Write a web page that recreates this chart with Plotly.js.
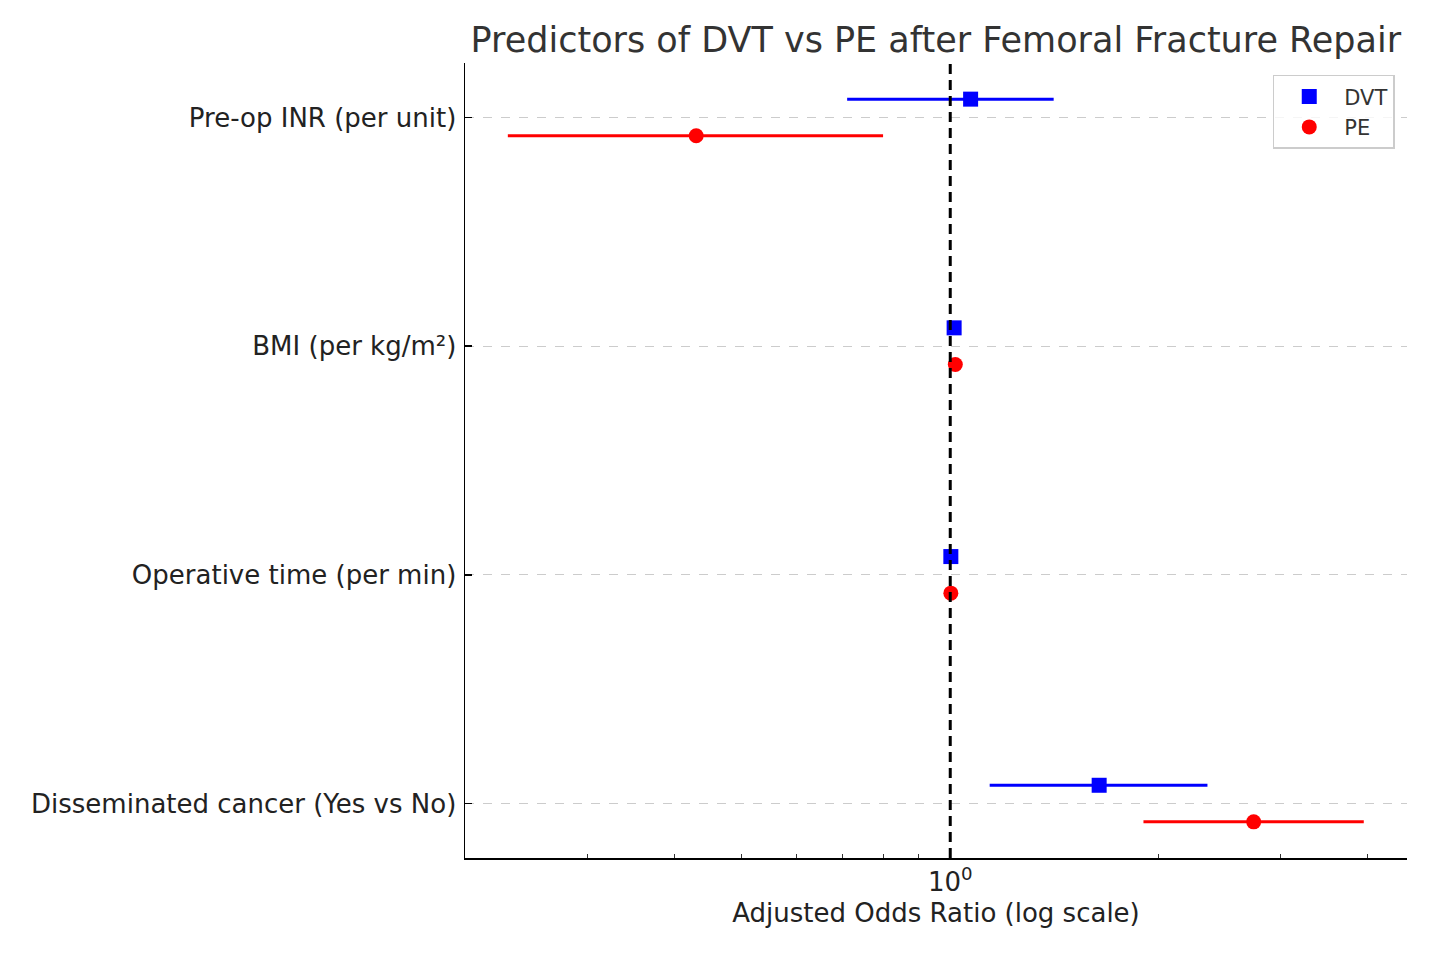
<!DOCTYPE html>
<html>
<head>
<meta charset="utf-8">
<script src="https://cdn.plot.ly/plotly-3.0.1.min.js"></script>
<style>html,body{margin:0;padding:0;background:#fff;}#chart{width:1431px;height:954px;}</style>
</head>
<body>
<div id="chart"></div>
<script>
const categories = ["Pre-op INR (per unit)", "BMI (per kg/m²)", "Operative time (per min)", "Disseminated cancer (Yes vs No)"];
const dvtOR = [1.07, 1.013, 1.002, 1.64];
const dvtLo = [0.71, 1.005, 0.999, 1.14];
const dvtHi = [1.41, 1.021, 1.005, 2.35];
const peOR = [0.43, 1.017, 1.002, 2.74];
const peLo = [0.23, 1.009, 0.999, 1.90];
const peHi = [0.80, 1.025, 1.005, 3.95];
const xMinorTicks = [0.2, 0.3, 0.4, 0.5, 0.6, 0.7, 0.8, 0.9, 2, 3, 4];
const xMajorTicks = [1];
const xMajorLabels = ["10<sup>0</sup>"];

const n = categories.length;
const basePos = categories.map((c, i) => n - 1 - i);
const off = 0.08;

const dvt = {
  type: 'scatter', mode: 'markers', name: 'DVT',
  x: dvtOR, y: basePos.map(p => p + off),
  marker: {symbol: 'square', size: 15, color: 'blue'},
  error_x: {type: 'data', symmetric: false,
    array: dvtOR.map((v, i) => dvtHi[i] - v),
    arrayminus: dvtOR.map((v, i) => v - dvtLo[i]),
    color: 'blue', thickness: 3, width: 0}
};
const pe = {
  type: 'scatter', mode: 'markers', name: 'PE',
  x: peOR, y: basePos.map(p => p - off),
  marker: {symbol: 'circle', size: 15, color: 'red'},
  error_x: {type: 'data', symmetric: false,
    array: peOR.map((v, i) => peHi[i] - v),
    arrayminus: peOR.map((v, i) => v - peLo[i]),
    color: 'red', thickness: 3, width: 0}
};

const layout = {
  width: 1431, height: 954,
  margin: {l: 465, r: 24, t: 63, b: 96},
  paper_bgcolor: '#fff', plot_bgcolor: '#fff',
  font: {family: 'DejaVu Sans', color: '#222', size: 26},
  title: {text: 'Predictors of DVT vs PE after Femoral Fracture Repair',
    font: {size: 35, color: '#333', family: 'DejaVu Sans'},
    x: 0.654, xanchor: 'center', y: 0.958, yanchor: 'middle'},
  xaxis: {
    type: 'log',
    range: [Math.log10(0.1995), Math.log10(4.56)],
    tickmode: 'array', tickvals: xMajorTicks, ticktext: xMajorLabels,
    ticks: 'inside', ticklen: 6, tickwidth: 1.5, tickcolor: '#000',
    showline: true, linecolor: '#000', linewidth: 2, mirror: false,
    showgrid: false, zeroline: false,
    tickfont: {size: 26, color: '#222'},
    minor: {tickmode: 'array', tickvals: xMinorTicks, ticks: 'inside', ticklen: 4, tickwidth: 1, tickcolor: '#333', showgrid: false},
    title: {text: 'Adjusted Odds Ratio (log scale)', font: {size: 26, color: '#222'}, standoff: 8}
  },
  yaxis: {
    range: [-0.238, n - 1 + 0.238],
    tickmode: 'array', tickvals: basePos, ticktext: categories,
    ticks: 'inside', ticklen: 7, tickwidth: 1.5, tickcolor: '#000',
    showline: true, linecolor: '#000', linewidth: 1.5, mirror: false,
    showgrid: true, gridcolor: '#cccccc', griddash: 'dash', gridwidth: 1,
    zeroline: false,
    tickfont: {size: 26, color: '#222'},
    ticklabelstandoff: 2
  },
  shapes: [{type: 'line', xref: 'x', yref: 'paper', x0: 1, x1: 1, y0: 0, y1: 1,
    line: {color: '#000', width: 3, dash: '10px,6px'}}],
  legend: {x: 0.987, y: 0.985, xanchor: 'right', yanchor: 'top',
    bgcolor: 'rgba(255,255,255,0.8)', bordercolor: '#cccccc', borderwidth: 1.5,
    itemwidth: 60,
    font: {size: 21, color: '#333'}},
  showlegend: true
};

Plotly.newPlot('chart', [dvt, pe], layout, {displayModeBar: false, staticPlot: true});
</script>
</body>
</html>
